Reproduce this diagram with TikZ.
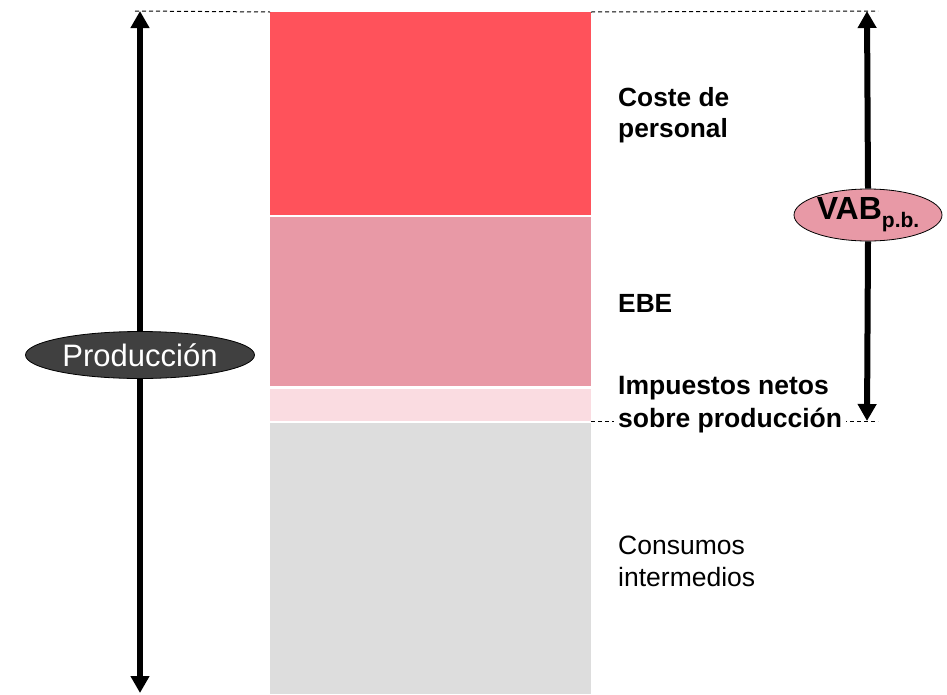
\documentclass[tikz,border=0pt]{standalone}
\usepackage{fontspec}
\setmainfont{Liberation Sans}
\usetikzlibrary{shapes.geometric,arrows.meta}
\definecolor{cred}{RGB}{255,82,91}
\definecolor{cebe}{RGB}{232,153,166}
\definecolor{clight}{RGB}{250,220,225}
\definecolor{cgray}{RGB}{221,221,221}
\definecolor{cdark}{RGB}{64,64,64}
\tikzset{
  bar/.style={anchor=north west, minimum width=321pt, inner sep=0pt, outer sep=0pt, draw=none},
  lbl/.style={anchor=west, align=left, inner sep=1pt, font=\fontsize{26}{32}\selectfont},
  bigarrow/.style={line width=6pt, -{Triangle[width=18pt,length=17pt]}},
  guide/.style={line width=1pt, dash pattern=on 4pt off 3pt},
  oval/.style={ellipse, draw=black, line width=0.8pt, inner sep=0pt}
}
\begin{document}
\begin{tikzpicture}[x=1pt,y=-1pt]
\useasboundingbox (0,0) rectangle (947,694);
% bars
\node[bar, fill=cred, minimum height=203pt] (cp) at (270,12) {};
\node[bar, fill=cebe, minimum height=169pt] (ebe) at (270,217) {};
\node[bar, fill=clight, minimum height=32pt] (imp) at (270,389) {};
\node[bar, fill=cgray, minimum height=271pt] (ci) at (270,423) {};
% guide lines
\coordinate (lt) at (140,11);
\coordinate (lb) at (140,693);
\coordinate (rt) at (867,11);
\coordinate (rb) at (867,421);
\draw[guide] (135,11) -- (cp.north west);
\draw[guide] (cp.north east) -- (878,11);
\draw[guide] (591,421) -- (878,421);
% labels
\node[lbl, font=\fontsize{26.3}{31}\selectfont\bfseries] (tcp) at (617,115) {Coste de\\personal};
\node[lbl, font=\fontsize{26.3}{31}\selectfont\bfseries] (tebe) at (617,303) {EBE};
\node[lbl, font=\fontsize{26.5}{33}\selectfont\bfseries, fill=white, inner xsep=4pt] (timp) at (614,405) {Impuestos netos\\sobre producción};
\node[lbl, font=\fontsize{26.5}{32}\selectfont] (tci) at (617,561) {Consumos\\intermedios};
% ellipses
\node[oval, fill=cdark, minimum width=229pt, minimum height=47pt, text=white, font=\fontsize{31}{36}\selectfont] (prod) at (140,355) {Producción};
\node[oval, fill=cebe, minimum width=148pt, minimum height=52pt, font=\fontsize{32}{36}\selectfont\bfseries] (vab) at (868,215) {VAB\raisebox{-8pt}{\fontsize{21}{24}\selectfont p.b.}};
% arrows
\draw[bigarrow] (prod.north) -- (lt);
\draw[bigarrow] (prod.south) -- (lb);
\draw[bigarrow] (vab.north) -- (rt);
\draw[bigarrow] (vab.south) -- (rb);
\end{tikzpicture}
\end{document}
